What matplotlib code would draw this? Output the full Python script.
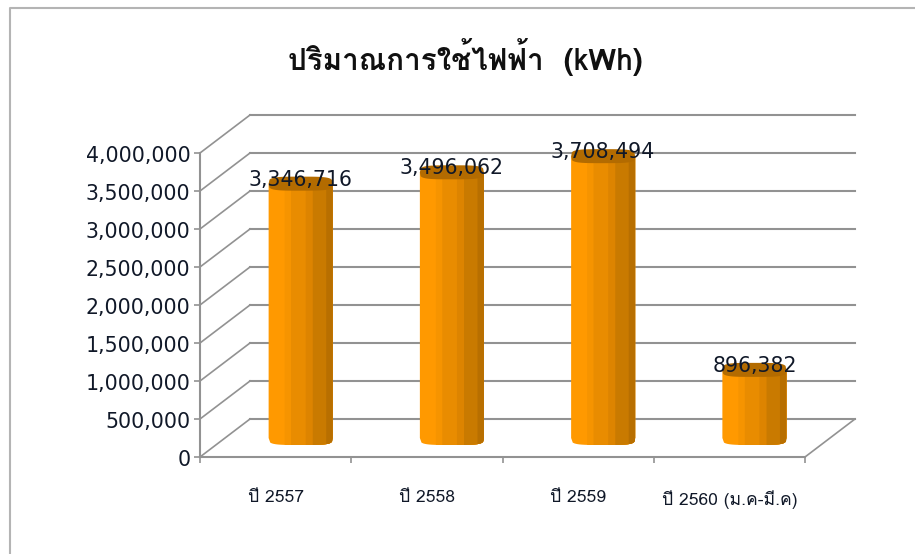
import numpy as np
import matplotlib
matplotlib.use('Agg')
import matplotlib.pyplot as plt
from matplotlib.lines import Line2D
from matplotlib.transforms import ScaledTranslation

categories = ['ปี 2557', 'ปี 2558', 'ปี 2559', 'ปี 2560 (ม.ค-มี.ค)']
values = [3346716, 3496062, 3708494, 896382]
y_ticks = [0, 500000, 1000000, 1500000, 2000000, 2500000, 3000000, 3500000, 4000000]
title = 'ปริมาณการใช้ไฟฟ้า  (kWh)'

band_colors = ['#FF9900', '#F69400', '#E98C00', '#DD8400', '#C97A00', '#B86F00']
band_edges = [-1, -0.5, -0.3, 0.16, 0.38, 0.8, 1]
cap_color = '#B36B00'
grid_color = '#929292'
W, H = 915, 554
thai = ['Loma', 'DejaVu Sans']

fig = plt.figure(figsize=(W / 100, H / 100), dpi=100)
ax = fig.add_axes([200 / W, 1 - 457 / H, 605 / W, 304 / H])
ax.set_xlim(0, 4)
ax.set_ylim(0, 4000000)
ax.patch.set_visible(False)

# depth of the fake 3d box, in data units
dx = 50 / 605 * 4
dy = 500000
px_x = 4 / 605
px_y = 4000000 / 304

# back wall + side wall + floor
for v in y_ticks:
    ax.plot([0, dx], [v, v + dy], color=grid_color, lw=1.2, clip_on=False, zorder=1)
    ax.plot([dx, 4 + dx], [v + dy, v + dy], color=grid_color, lw=1.5, clip_on=False, zorder=1)
ax.plot([4, 4 + dx], [0, dy], color=grid_color, lw=1.2, clip_on=False, zorder=1)

# bars sit half way into the box
half_w = 32 * px_x
cap_h = 7 * px_y
for i, val in enumerate(values):
    cx = i + 0.5 + dx / 2
    base = dy / 2
    top = val + dy / 2
    # each band runs to the right end so no seams show between them
    for k, col in enumerate(band_colors):
        t = np.linspace(band_edges[k], 1, 40)
        low = base - cap_h * (1 - np.abs(t) ** 4) ** (1 / 4)
        xs = cx + half_w * t
        ax.fill(np.r_[xs, xs[::-1]], np.r_[low, np.full(40, top)], color=col,
                lw=0, clip_on=False, zorder=3)
    t = np.linspace(-1, 1, 80)
    arc = cap_h * (1 - np.abs(t) ** 4) ** (1 / 4)
    xs = cx + half_w * t
    ax.fill(np.r_[xs, xs[::-1]], np.r_[top + arc, (top - arc)[::-1]], color=cap_color,
            lw=0, clip_on=False, zorder=4)
    ax.annotate(f'{val:,}', (cx, top), xytext=(0, 4), textcoords='offset pixels',
                ha='center', va='center', fontsize=14.8, color='#101828', zorder=5,
                annotation_clip=False)

ax.set_yticks(y_ticks)
ax.set_yticklabels([f'{v:,}' for v in y_ticks], fontsize=14.8, color='#101828')
ax.set_xticks(range(5))
ax.set_xticklabels([])
ax.set_xticks(np.arange(4) + 0.5, minor=True)
ax.set_xticklabels(categories, minor=True, family=thai, fontsize=12.6, color='#101828')
ax.tick_params(axis='y', length=4, width=1.2, color=grid_color, pad=2.8)
ax.tick_params(axis='x', which='major', length=4, width=1.2, color=grid_color)
ax.tick_params(axis='x', which='minor', length=0, pad=24)
shift = ScaledTranslation(0, -1.5 / 100, fig.dpi_scale_trans)
for lab in ax.get_yticklabels():
    lab.set_transform(lab.get_transform() + shift)
for s in ['top', 'right']:
    ax.spines[s].set_visible(False)
for s in ['left', 'bottom']:
    ax.spines[s].set_color(grid_color)
    ax.spines[s].set_linewidth(1.5)

fig.text(465 / W, 1 - 57 / H, title, family=thai, fontweight='bold', fontsize=21.3,
         ha='center', va='center', color='#101010')

# chart frame, only top and left show in the crop
fig.add_artist(Line2D([10 / W, 10 / W, 1], [0, 1 - 8 / H, 1 - 8 / H], color='#B4B4B4', lw=1.5))

fig.savefig('out.png', dpi=100)
